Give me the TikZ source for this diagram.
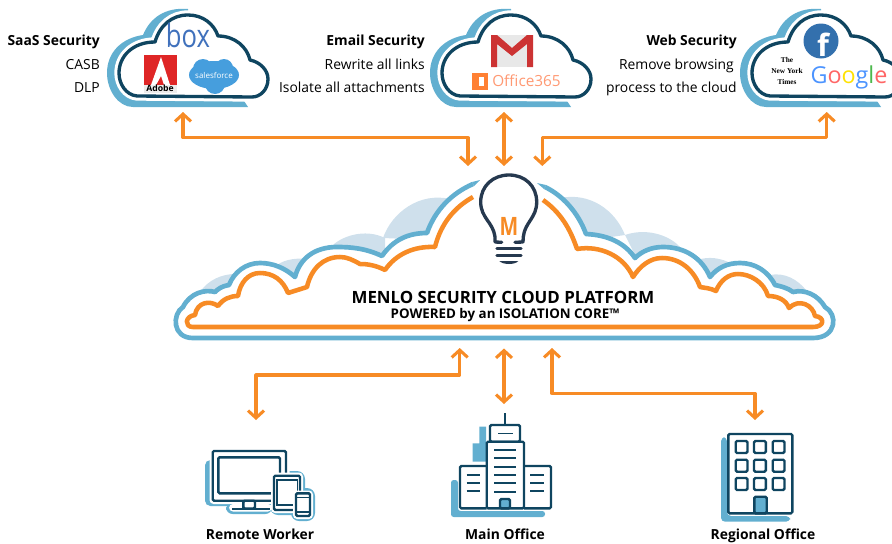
\documentclass[tikz,border=0pt]{standalone}
\usepackage{fontspec}
\setmainfont{Open Sans}
\newfontfamily\nytfont{Liberation Serif}
\usetikzlibrary{arrows.meta}
\definecolor{menloorange}{HTML}{F78B25}
\definecolor{menloblue}{HTML}{62AFD0}
\definecolor{menlopale}{HTML}{CFE0EC}
\definecolor{menlodark}{HTML}{0F4560}
\definecolor{menlonavy}{HTML}{26394F}
\tikzset{
	link/.style={line width=2.3pt, color=menloorange, line join=round, {Straight Barb[length=5.5pt,width=12pt,line width=2.3pt]}-{Straight Barb[length=5.5pt,width=12pt,line width=2.3pt]}},
	info/.style={anchor=base east, inner sep=0pt, font=\fontsize{10.4}{12}\selectfont},
	infohead/.style={info, font=\fontsize{10.4}{12}\selectfont\bfseries},
	sitelabel/.style={anchor=base, inner sep=0pt, font=\fontsize{10.4}{12}\selectfont\bfseries},
	iconline/.style={line width=1.8pt, draw=menlodark, rounded corners=1pt},
	iconrule/.style={line width=1.3pt, draw=menlodark},
	halo/.style={fill=white, rounded corners=3pt},
}
% small cloud, #1 = shift to the right
\def\smallcloud#1{
	\begin{scope}[shift={(#1,0)}]
		\fill[menloblue] (248,107) -- (133,107) .. controls (118,107) and (107,90) .. (107,73) .. controls (107,52) and (122,38) .. (143,35) .. controls (150,18) and (165,7) .. (188,9) -- (188,40) -- (230,80) -- cycle;
		\draw[white, line width=7pt, line join=round] \cloudline;
		\draw[fill=white, line width=2.5pt, draw=menlodark, line join=round] \cloudline;
	\end{scope}
}
\def\cloudline{(137,96) .. controls (126,95) and (119,84) .. (119,73) .. controls (119,56) and (133,42) .. (155,42) .. controls (160,25) and (172,15) .. (188,15) .. controls (203,15) and (214,24) .. (218,36) .. controls (235,36) and (247,47) .. (250,60) .. controls (260,62) and (268,70) .. (268,79) .. controls (268,90) and (260,97) .. (252,97) -- cycle}
\def\mainblue{(473,184) .. controls (452,193) and (435,210) .. (427,233)
	.. controls (408,233) and (393,240) .. (382,256)
	.. controls (365,248) and (350,247) .. (337,247) .. controls (315,247) and (300,258) .. (295,277)
	.. controls (285,268) and (273,263) .. (260,263) .. controls (246,263) and (234,272) .. (229,285)
	.. controls (222,286) and (218,289) .. (215,292)
	.. controls (205,289) and (190,293) .. (183,307)
	.. controls (172,314) and (172,338) .. (193,338)
	-- (813,338) .. controls (837,338) and (838,314) .. (825,307)
	.. controls (818,295) and (805,289) .. (793,292)
	.. controls (788,288) and (780,286) .. (775,285)
	.. controls (768,271) and (755,263) .. (740,263) .. controls (727,263) and (717,268) .. (710,277)
	.. controls (702,258) and (685,247) .. (663,247) .. controls (652,247) and (642,251) .. (635,258)
	.. controls (625,243) and (608,235) .. (586,234)
	.. controls (578,212) and (562,195) .. (545,187)}
\def\mainorange{(473,197) .. controls (455,207) and (441,223) .. (435,247)
	.. controls (414,246) and (396,254) .. (385,270)
	.. controls (375,265) and (367,264) .. (360,264) .. controls (353,260) and (347,257) .. (340,257) .. controls (323,257) and (311,269) .. (307,287)
	-- (288,293)
	.. controls (283,280) and (273,273) .. (260,273) .. controls (248,273) and (240,283) .. (238,296)
	.. controls (230,296) and (223,299) .. (218,306)
	.. controls (210,300) and (197,302) .. (195,315)
	.. controls (185,316) and (184,327) .. (193,327)
	-- (813,327) .. controls (825,327) and (825,317) .. (815,316)
	.. controls (813,305) and (799,298) .. (789,308)
	.. controls (786,300) and (778,296) .. (768,296)
	.. controls (764,282) and (750,274) .. (738,274) .. controls (728,274) and (720,281) .. (716,291)
	.. controls (710,288) and (705,288) .. (700,287)
	.. controls (694,270) and (680,258) .. (662,258) .. controls (650,258) and (640,266) .. (633,277)
	.. controls (624,256) and (600,245) .. (577,249)
	.. controls (570,228) and (560,212) .. (543,200)}

\begin{document}
\begin{tikzpicture}[x=0.75pt, y=-0.75pt]
	\clip (0,0) rectangle (892,543);
	
	%%%%% top clouds %%%%%
	\smallcloud{0}
	\smallcloud{323}
	\smallcloud{633}
	
	%%%%% logos %%%%%
	\node[inner sep=0pt, color=blue!60!cyan!65!black!75, font=\fontsize{24}{24}\selectfont] (boxLogo) at (188,35) {\scalebox{0.8}[1]{box}};
	\fill[red!85!black!85] (144,55) rectangle (177,85);
	\fill[white] (161,57) -- (170,85) -- (164,85) -- (161,76) -- (156,85) -- (151,85) -- cycle;
	\fill[gray!15] (144,85) rectangle (177,93);
	\node[inner sep=0pt, font=\fontsize{6.5}{6}\selectfont\bfseries] (adobeLogo) at (160,88.5) {Adobe};
	\fill[cyan!70!blue!75] (214,75) ellipse (25 and 14);
	\fill[cyan!70!blue!75] (203,69) circle (10);
	\fill[cyan!70!blue!75] (224,68) circle (9);
	\fill[cyan!70!blue!75] (215,84) circle (10);
	\node[inner sep=0pt, color=white, font=\fontsize{6}{6}\selectfont] (salesforceLogo) at (214,75) {salesforce};
	
	\fill[gray!18] (491,35) rectangle (533,67);
	\fill[red!75!black!80] (491,35) -- (497,35) -- (512,48) -- (527,35) -- (533,35) -- (533,67) -- (527,67) -- (527,44) -- (512,56) -- (497,44) -- (497,67) -- (491,67) -- cycle;
	\fill[orange!75!red!80] (472,73) rectangle (488,90);
	\fill[white] (479,77) rectangle (484,86);
	\node[inner sep=0pt, anchor=west, color=red!45!orange!55, font=\fontsize{11.5}{12}\selectfont] (officeLogo) at (492,81) {Office365};
	
	\fill[blue!50!cyan!60!black!80] (821,41) circle (17.5);
	\node[inner sep=0pt, color=white, font=\fontsize{23}{23}\selectfont\bfseries] (facebookLogo) at (823,45) {f};
	\node[inner sep=0pt, align=center, font=\fontsize{5.5}{8}\selectfont\nytfont\bfseries] (timesLogo) at (787,71) {The\\New York\\Times};
	\node[inner sep=0pt, font=\fontsize{17.5}{19}\selectfont] (googleLogo) at (849,77) {\textcolor{blue!60!cyan!70}{G}\textcolor{red!60}{o}\textcolor{yellow!85!orange}{o}\textcolor{blue!60!cyan!70}{g}\textcolor{green!60!black!70}{l}\textcolor{red!60}{e}};
	
	%%%%% top texts %%%%%
	\node[infohead] (saasHead) at (100,45) {SaaS Security};
	\node[info] (saasOne) at (100,69.3) {CASB};
	\node[info] (saasTwo) at (100,92.5) {DLP};
	\node[infohead] (emailHead) at (425,45) {Email Security};
	\node[info] (emailOne) at (425,69.3) {Rewrite all links};
	\node[info] (emailTwo) at (425,92.5) {Isolate all attachments};
	\node[infohead] (webHead) at (737,45) {Web Security};
	\node[info] (webOne) at (734,69.3) {Remove browsing};
	\node[info] (webTwo) at (737,92.5) {process to the cloud};
	
	%%%%% platform cloud %%%%%
	\fill[menlopale] (200,292) .. controls (208,280) and (222,274) .. (235,274) -- (240,295) -- cycle;
	\fill[menlopale] (277,265) .. controls (285,259) and (300,257) .. (310,260) -- (300,285) -- cycle;
	\fill[menlopale] (330,248) .. controls (340,236) and (365,228) .. (385,238) -- (385,260) -- cycle;
	\fill[menlopale] (383,238) .. controls (392,212) and (420,192) .. (450,199) -- (430,240) -- cycle;
	\fill[menlopale] (560,198) .. controls (590,192) and (615,210) .. (625,235) -- (590,240) -- cycle;
	\fill[menlopale] (625,235) .. controls (645,228) and (668,234) .. (680,247) -- (640,265) -- cycle;
	\fill[menlopale] (698,260) .. controls (708,256) and (722,258) .. (732,264) -- (710,280) -- cycle;
	\fill[menlopale] (770,275) .. controls (785,272) and (798,280) .. (806,290) -- (780,295) -- cycle;
	\draw[fill=white, line width=3.5pt, draw=menloblue, line join=round] \mainblue;
	\fill[menloblue] (480,180) -- (472,182) -- (474,186) -- cycle;
	\fill[menloblue] (537,183) -- (546,185) -- (544,189) -- cycle;
	\draw[line width=3.4pt, draw=menloorange, line join=round] \mainorange;
	\node[inner sep=0pt, font=\fontsize{12.65}{14}\selectfont\bfseries] (platformName) at (503,297) {MENLO SECURITY CLOUD PLATFORM};
	\node[inner sep=0pt, font=\fontsize{10}{11}\selectfont\bfseries] (platformSub) at (505,315) {POWERED by an ISOLATION CORE™};
	
	%%%%% bulb %%%%%
	\draw[line width=2.5pt, draw=menlonavy, line cap=round, line join=round] (501.7,242.3) -- (495,242) -- (495,236.7) .. controls (493,222) and (480.7,218) .. (480.7,202) .. controls (480.7,186) and (493,175) .. (509,175) .. controls (525,175) and (536.7,186) .. (536.7,202) .. controls (536.7,218) and (525,222) .. (523.3,236.7) -- (523,242) -- (515,242.3);
	\draw[line width=2.5pt, draw=menlonavy, line cap=round] (497,248.3) -- (521,248.3);
	\draw[line width=2.5pt, draw=menlonavy, line cap=round] (497,255.7) -- (521,255.7);
	\fill[menlonavy] (499.3,261) -- (518.3,261) .. controls (515,265) and (503,265) .. (499.3,261) -- cycle;
	\node[inner sep=0pt, color=menloorange, font=\fontsize{19}{19}\selectfont\bfseries] (bulbLetter) at (509,226) {\scalebox{0.78}[1]{M}};
	
	%%%%% connector ends %%%%%
	\coordinate (saasPort) at (183,112);
	\coordinate (emailPort) at (504,112);
	\coordinate (webPort) at (826.7,112);
	\coordinate (hubLeft) at (468,166);
	\coordinate (hubMid) at (504,166);
	\coordinate (hubRight) at (542.3,166);
	\coordinate (topBus) at (0,137.7);
	\coordinate (baseLeft) at (459.7,348);
	\coordinate (baseMid) at (504,348.5);
	\coordinate (baseRight) at (552,348);
	\coordinate (remotePort) at (256,420);
	\coordinate (mainPort) at (504,404);
	\coordinate (regionalPort) at (755,420);
	\coordinate (remoteBus) at (0,375);
	\coordinate (regionalBus) at (0,393.5);
	
	\draw[link] (saasPort) -- (saasPort |- topBus) -- (hubLeft |- topBus) -- (hubLeft);
	\draw[link] (emailPort) -- (hubMid);
	\draw[link] (webPort) -- (webPort |- topBus) -- (hubRight |- topBus) -- (hubRight);
	\draw[link] (baseLeft) -- (baseLeft |- remoteBus) -- (remotePort |- remoteBus) -- (remotePort);
	\draw[link] (baseMid) -- (mainPort);
	\draw[link] (baseRight) -- (baseRight |- regionalBus) -- (regionalPort |- regionalBus) -- (regionalPort);
	
	%%%%% remote worker %%%%%
	\fill[menloblue, rounded corners=4pt] (205,460) rectangle (282,506);
	\fill[menloblue, rounded corners=5pt] (226,503) rectangle (272,514);
	\fill[menloblue, rounded corners=6pt] (270,471) rectangle (305,515);
	\fill[menloblue, rounded corners=6pt] (291,488) rectangle (315,521);
	\fill[halo] (209.5,447.5) rectangle (289.5,504);
	\fill[white, rounded corners=3pt] (229,504) rectangle (272,511.5);
	\draw[iconline] (212.7,451) rectangle (286,500.7);
	\draw[iconline] (218.3,457.3) rectangle (280,493.3);
	\draw[iconline] (243.3,500.7) rectangle (255,508.5);
	\draw[iconline] (232,509) -- (270,509);
	\fill[halo] (271,472.5) rectangle (303,513);
	\draw[iconline] (274,475.7) rectangle (300,510);
	\draw[line width=1.1pt, draw=menlodark] (277,480) rectangle (297.5,505);
	\fill[halo] (293,490.5) rectangle (313,519);
	\draw[iconline] (296,493.3) rectangle (310,516);
	\draw[line width=1pt, draw=menlodark] (296,497.5) -- (310,497.5) (296,512) -- (310,512);
	\node[sitelabel] (remoteLabel) at (260,539.2) {Remote Worker};
	
	%%%%% main office %%%%%
	\fill[menloblue] (479.3,426.7) -- (486,426.7) -- (486,461.7) -- (472.7,461.7) -- (472.7,443.3) -- (479.3,443.3) -- cycle;
	\fill[menloblue, rounded corners=2pt] (451,480) -- (458,480) -- (458,511) -- (545,511) -- (545,517) -- (451,517) -- cycle;
	\draw[iconline] (504.7,413) -- (504.7,425);
	\draw[iconline] (490,425) rectangle (520,441.7);
	\draw[iconrule] (498.3,433.5) -- (512.7,433.5);
	\draw[iconline] (486.7,441.7) rectangle (524,508.3);
	\draw[iconline] (486.7,466) -- (460,466) -- (460,508.3) -- (486.7,508.3);
	\draw[iconline] (524,466) -- (551,466) -- (551,508.3) -- (524,508.3);
	\foreach \ruleY in {450,458.3,466.7,475,483.3,491.7}
		\draw[iconrule] (494,\ruleY) -- (516,\ruleY);
	\foreach \ruleY in {475,483.3,491.3}{
		\draw[iconrule] (466.7,\ruleY) -- (480,\ruleY);
		\draw[iconrule] (530,\ruleY) -- (544,\ruleY);
	}
	\draw[iconline, fill=menloblue] (500,508.3) rectangle (510,499);
	\node[sitelabel] (mainLabel) at (505,539.2) {Main Office};
	
	%%%%% regional office %%%%%
	\fill[menloblue, rounded corners=3pt] (721,437.3) -- (727,437.3) -- (727,516) -- (790,516) -- (790,521.7) -- (721,521.7) -- cycle;
	\draw[iconline] (728.3,434) rectangle (792.3,513.3);
	\foreach \winY in {441,459.7,478}
		\foreach \winX in {735.7,754,772.7}
			\draw[iconline] (\winX,\winY) rectangle ++(11.8,12);
	\draw[iconline, fill=menloblue] (754.3,513.3) rectangle (766.7,496.7);
	\node[sitelabel] (regionalLabel) at (763,539.2) {Regional Office};
\end{tikzpicture}
\end{document}
